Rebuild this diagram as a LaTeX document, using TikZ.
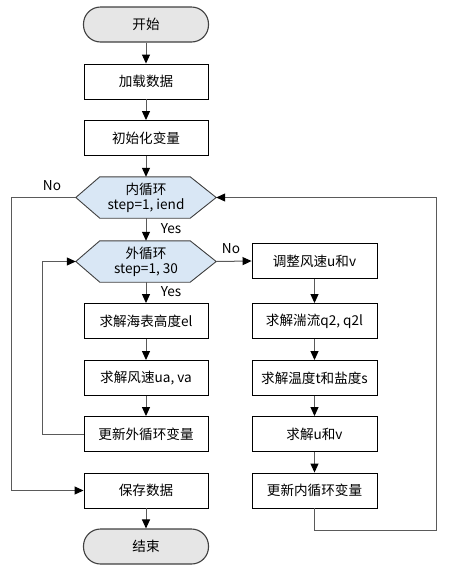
\documentclass[tikz,border=0pt]{standalone}
\usepackage{fontspec}
\setmainfont{Noto Sans CJK SC}
\usetikzlibrary{arrows.meta,calc}
\definecolor{termfill}{HTML}{E6E6E6}
\definecolor{hexfill}{HTML}{D9E7F5}
\definecolor{linegray}{HTML}{5A5A5A}
\definecolor{edgegray}{HTML}{404040}
\begin{document}
\begin{tikzpicture}[x=1pt,y=-1pt,
  font=\fontsize{13.6}{15}\selectfont,
  every node/.style={inner sep=0pt, align=center},
  term/.style={draw=edgegray, fill=termfill, line width=1.1pt, rounded corners=17pt, minimum width=125pt, minimum height=35pt},
  proc/.style={draw=black, line width=0.9pt, minimum width=124pt, minimum height=35pt},
  hexa/.style={minimum width=140pt, minimum height=41pt},
  hexline/.style={draw=edgegray, fill=hexfill, line width=0.9pt},
  conn/.style={draw=linegray, line width=1pt, -{Triangle[length=9pt,width=8pt,color=black]}},
  lbl/.style={font=\fontsize{13.6}{15}\selectfont}
]
\useasboundingbox (0,0) rectangle (455,574);

\node[term] (start) at (146,24.5) {开始};
\node[proc] (load) at (146,81.5) {加载数据};
\node[proc] (init) at (146,138) {初始化变量};
\node[hexa] (inner) at (146,197.5) {};
\node[hexa] (outer) at (146,261.5) {};
\node[proc] (el) at (146,321) {求解海表高度el};
\node[proc] (ua) at (146,378) {求解风速ua, va};
\node[proc] (updout) at (146,434) {更新外循环变量};
\node[proc] (save) at (146,490.5) {保存数据};
\node[term] (end) at (146,546.5) {结束};

\node[proc, minimum width=125pt] (adj) at (314.5,261) {调整风速u和v};
\node[proc, minimum width=125pt] (q2) at (314.5,321) {求解湍流q2, q2l};
\node[proc, minimum width=125pt] (ts) at (314.5,378) {求解温度t和盐度s};
\node[proc, minimum width=125pt] (uv) at (314.5,434) {求解u和v};
\node[proc, minimum width=125pt] (updin) at (314.5,490.5) {更新内循环变量};

% hexagons
\foreach \h in {inner,outer}{
  \path[hexline] (\h.west) -- ($(\h.north west)+(24,0)$) -- ($(\h.north east)+(-26,0)$) -- (\h.east)
     -- ($(\h.south east)+(-26,0)$) -- ($(\h.south west)+(24,0)$) -- cycle;
}
\node at (inner) {内循环\\step=1, iend};
\node at (outer) {外循环\\step=1, 30};

% main column
\draw[conn] (start) -- (load);
\draw[conn] (load) -- (init);
\draw[conn] (init) -- (inner);
\draw[conn] (inner) -- (outer);
\draw[conn] (outer) -- (el);
\draw[conn] (el) -- (ua);
\draw[conn] (ua) -- (updout);
\draw[conn] (save) -- (end);

% right column
\draw[conn] (outer.east) -- (adj.west);
\draw[conn] (adj) -- (q2);
\draw[conn] (q2) -- (ts);
\draw[conn] (ts) -- (uv);
\draw[conn] (uv) -- (updin);

% loops
\draw[conn] (updout.west) -- ++(-41,0) |- (outer.west);
\draw[conn] (inner.west) -- ++(-64,0) |- (save.west);
\coordinate (rc) at (436,530);
\draw[conn] (updin.south) |- (rc) |- (inner.east);

% labels
\node[lbl] at (52,186) {No};
\node[lbl] at (231,249) {No};
\node[lbl] at (171,229) {Yes};
\node[lbl] at (171,292) {Yes};
\end{tikzpicture}
\end{document}
